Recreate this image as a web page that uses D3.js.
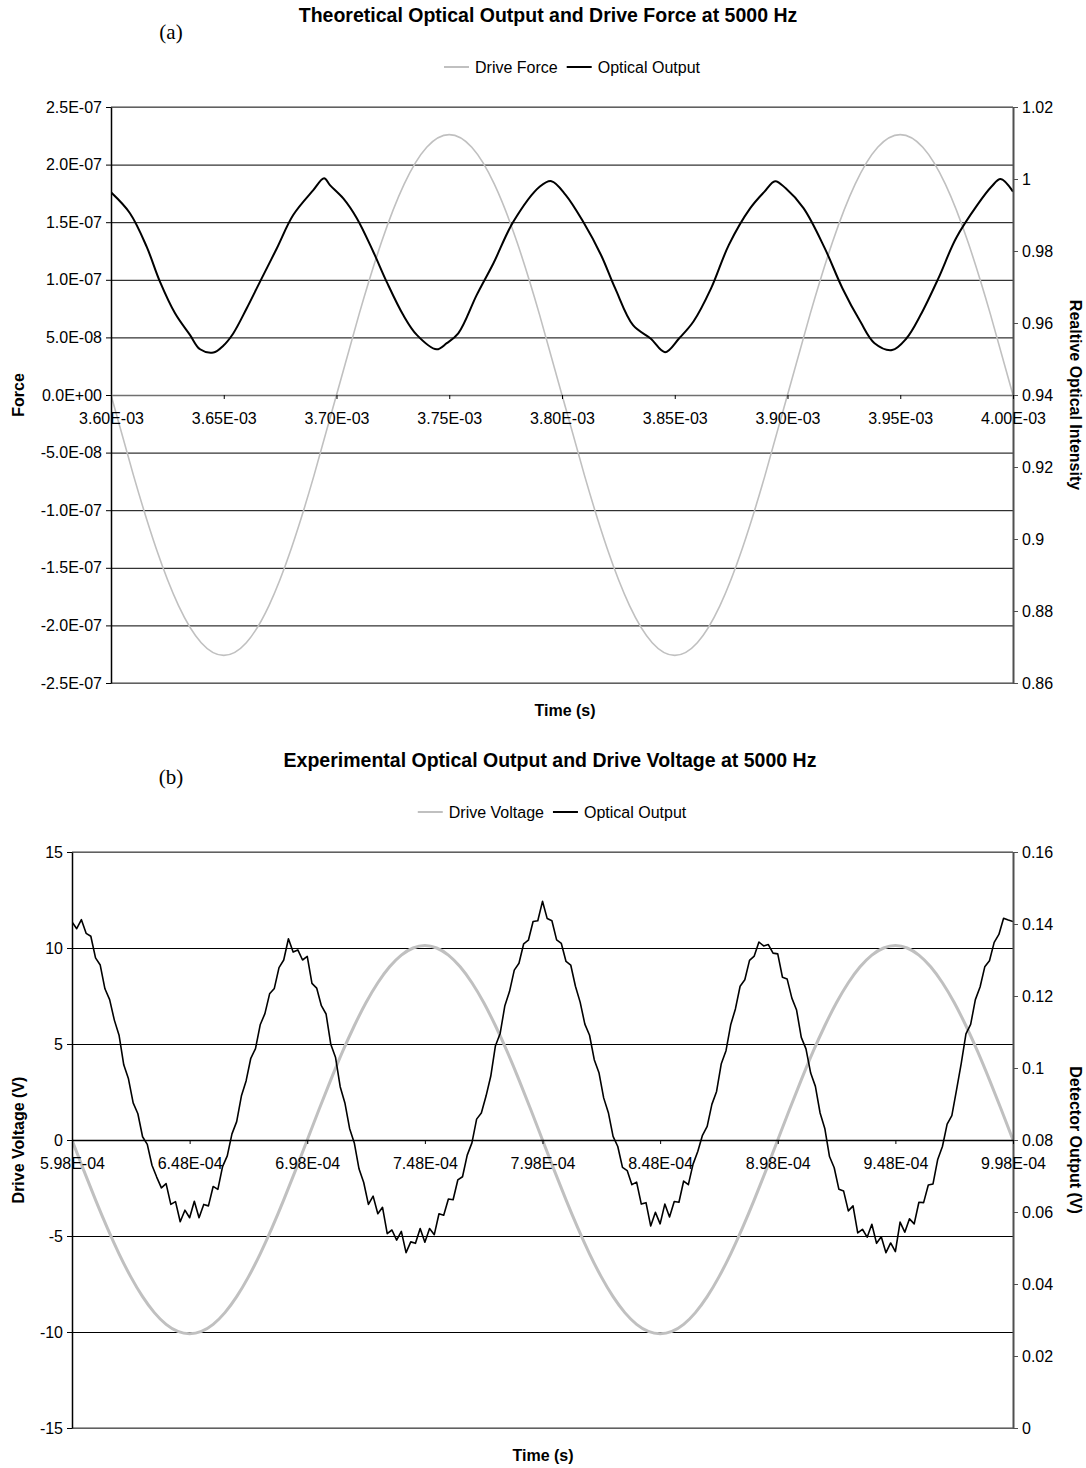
<!DOCTYPE html>
<html>
<head>
<meta charset="utf-8">
<script src="https://cdn.jsdelivr.net/npm/d3@7"></script>
<style>
  body { margin: 0; background: #fff; }
  text { font-family: "Liberation Sans", Arial, sans-serif; fill: #000; }
</style>
</head>
<body>
<svg id="fig" width="1086" height="1468"></svg>
<script>
// ---------- Panel (a): theoretical model ----------
const timeTicksA = [3.60e-3, 3.65e-3, 3.70e-3, 3.75e-3, 3.80e-3, 3.85e-3, 3.90e-3, 3.95e-3, 4.00e-3];
const forceTicks = [-2.5e-7, -2.0e-7, -1.5e-7, -1.0e-7, -5.0e-8, 0, 5.0e-8, 1.0e-7, 1.5e-7, 2.0e-7, 2.5e-7];
const intensityTicks = [0.86, 0.88, 0.90, 0.92, 0.94, 0.96, 0.98, 1.00, 1.02];

// drive force sampled every 10 microseconds from 3.60E-03 s
const forceTime = d3.range(41).map(i => 3.6e-3 + i * 1e-5);
const forceA = [
  0, -7.0e-8, -1.33e-7, -1.83e-7, -2.15e-7, -2.26e-7, -2.15e-7, -1.83e-7, -1.33e-7, -7.0e-8,
  0, 7.0e-8, 1.33e-7, 1.83e-7, 2.15e-7, 2.26e-7, 2.15e-7, 1.83e-7, 1.33e-7, 7.0e-8,
  0, -7.0e-8, -1.33e-7, -1.83e-7, -2.15e-7, -2.26e-7, -2.15e-7, -1.83e-7, -1.33e-7, -7.0e-8,
  0, 7.0e-8, 1.33e-7, 1.83e-7, 2.15e-7, 2.26e-7, 2.15e-7, 1.83e-7, 1.33e-7, 7.0e-8,
  0
];

// relative optical intensity from the model
const opticalTimeA = [
  3.6000e-3, 3.6084e-3, 3.6158e-3, 3.6217e-3, 3.6284e-3, 3.6350e-3, 3.6395e-3, 3.6454e-3, 3.6498e-3, 3.6542e-3,
  3.6602e-3, 3.6661e-3, 3.6735e-3, 3.6808e-3, 3.6897e-3, 3.6945e-3, 3.6971e-3, 3.7030e-3, 3.7090e-3, 3.7163e-3,
  3.7222e-3, 3.7296e-3, 3.7356e-3, 3.7444e-3, 3.7489e-3, 3.7540e-3, 3.7622e-3, 3.7696e-3, 3.7784e-3, 3.7902e-3,
  3.7953e-3, 3.8016e-3, 3.8094e-3, 3.8173e-3, 3.8236e-3, 3.8315e-3, 3.8393e-3, 3.8457e-3, 3.8519e-3, 3.8583e-3,
  3.8661e-3, 3.8740e-3, 3.8835e-3, 3.8898e-3, 3.8945e-3, 3.8992e-3, 3.9071e-3, 3.9165e-3, 3.9244e-3, 3.9323e-3,
  3.9386e-3, 3.9464e-3, 3.9527e-3, 3.9590e-3, 3.9669e-3, 3.9748e-3, 3.9842e-3, 3.9905e-3, 3.9945e-3, 4.0000e-3
];
const opticalA = [
  0.9963, 0.9905, 0.9812, 0.9715, 0.9627, 0.9567, 0.9527, 0.9518, 0.9537, 0.9571,
  0.9641, 0.9715, 0.9807, 0.9900, 0.9969, 1.0002, 0.9983, 0.9946, 0.9891, 0.9798,
  0.9715, 0.9622, 0.9567, 0.9527, 0.9544, 0.9571, 0.9678, 0.9766, 0.9881, 0.9979,
  0.9994, 0.9956, 0.9881, 0.9789, 0.9696, 0.9594, 0.9557, 0.9519, 0.9557, 0.9604,
  0.9696, 0.9817, 0.9919, 0.9965, 0.9994, 0.9974, 0.9919, 0.9808, 0.9696, 0.9604,
  0.9544, 0.9525, 0.9557, 0.9622, 0.9724, 0.9836, 0.9928, 0.9979, 1.0000, 0.9965
];

// ---------- Panel (b): measurement ----------
const timeTicksB = [5.98e-4, 6.48e-4, 6.98e-4, 7.48e-4, 7.98e-4, 8.48e-4, 8.98e-4, 9.48e-4, 9.98e-4];
const voltTicks = [-15, -10, -5, 0, 5, 10, 15];
const detectorTicks = [0, 0.02, 0.04, 0.06, 0.08, 0.10, 0.12, 0.14, 0.16];

// drive voltage recorded every 5 microseconds from 5.98E-04 s
const voltTime = d3.range(81).map(i => 5.98e-4 + i * 5e-6);
const voltB = [
  0.00, -1.58, -3.12, -4.58, -5.93, -7.13, -8.16, -8.99, -9.60, -9.97,
  -10.09, -9.97, -9.60, -8.99, -8.16, -7.13, -5.93, -4.58, -3.12, -1.58,
  0.00, 1.59, 3.13, 4.60, 5.95, 7.16, 8.19, 9.02, 9.63, 10.00,
  10.13, 10.00, 9.63, 9.02, 8.19, 7.16, 5.95, 4.60, 3.13, 1.59,
  0.00, -1.58, -3.12, -4.58, -5.93, -7.13, -8.16, -8.99, -9.60, -9.97,
  -10.09, -9.97, -9.60, -8.99, -8.16, -7.13, -5.93, -4.58, -3.12, -1.58,
  0.00, 1.59, 3.13, 4.60, 5.95, 7.16, 8.19, 9.02, 9.63, 10.00,
  10.13, 10.00, 9.63, 9.02, 8.19, 7.16, 5.95, 4.60, 3.13, 1.59,
  0.00
];

// detector output recorded every 2 microseconds from 5.98E-04 s
const detTime = d3.range(201).map(i => 5.98e-4 + i * 2e-6);
const detectorB = [
  0.1406, 0.1387, 0.1412, 0.1374, 0.1366, 0.1306, 0.1286, 0.1220, 0.1190, 0.1133,
  0.1091, 0.1009, 0.0970, 0.0903, 0.0873, 0.0809, 0.0788, 0.0730, 0.0697, 0.0667,
  0.0679, 0.0621, 0.0629, 0.0573, 0.0605, 0.0584, 0.0630, 0.0584, 0.0621, 0.0617,
  0.0671, 0.0663, 0.0726, 0.0756, 0.0817, 0.0851, 0.0922, 0.0964, 0.1027, 0.1054,
  0.1120, 0.1151, 0.1206, 0.1221, 0.1279, 0.1300, 0.1359, 0.1322, 0.1328, 0.1300,
  0.1310, 0.1235, 0.1222, 0.1173, 0.1150, 0.1066, 0.1030, 0.0948, 0.0903, 0.0832,
  0.0792, 0.0720, 0.0682, 0.0621, 0.0644, 0.0595, 0.0613, 0.0540, 0.0550, 0.0522,
  0.0546, 0.0487, 0.0517, 0.0513, 0.0554, 0.0516, 0.0554, 0.0537, 0.0595, 0.0591,
  0.0636, 0.0634, 0.0689, 0.0698, 0.0758, 0.0792, 0.0858, 0.0875, 0.0922, 0.0977,
  0.1062, 0.1096, 0.1173, 0.1213, 0.1272, 0.1291, 0.1345, 0.1355, 0.1407, 0.1409,
  0.1463, 0.1415, 0.1409, 0.1356, 0.1346, 0.1296, 0.1286, 0.1227, 0.1183, 0.1122,
  0.1091, 0.1023, 0.0987, 0.0917, 0.0876, 0.0810, 0.0782, 0.0724, 0.0715, 0.0676,
  0.0683, 0.0622, 0.0626, 0.0561, 0.0599, 0.0567, 0.0622, 0.0586, 0.0629, 0.0627,
  0.0686, 0.0676, 0.0733, 0.0768, 0.0813, 0.0838, 0.0899, 0.0935, 0.1012, 0.1048,
  0.1120, 0.1164, 0.1227, 0.1245, 0.1299, 0.1311, 0.1350, 0.1339, 0.1343, 0.1319,
  0.1317, 0.1252, 0.1247, 0.1194, 0.1161, 0.1085, 0.1053, 0.0986, 0.0949, 0.0875,
  0.0832, 0.0754, 0.0723, 0.0663, 0.0658, 0.0603, 0.0617, 0.0542, 0.0552, 0.0530,
  0.0566, 0.0513, 0.0531, 0.0487, 0.0514, 0.0490, 0.0572, 0.0544, 0.0581, 0.0567,
  0.0627, 0.0626, 0.0675, 0.0678, 0.0746, 0.0782, 0.0844, 0.0868, 0.0939, 0.1013,
  0.1095, 0.1121, 0.1190, 0.1225, 0.1281, 0.1298, 0.1349, 0.1371, 0.1416, 0.1411,
  0.1407
];

// ---------- helpers ----------
function sci(v, digits) {
  if (Math.abs(v) < 1e-20) v = 0;
  const [m, e] = v.toExponential(digits).split('e');
  const sign = e[0] === '-' ? '-' : '+';
  return m + 'E' + sign + e.replace(/[+-]/, '').padStart(2, '0');
}
const plain = d3.format('~g');

const svg = d3.select('#fig');
const GREY = '#c0c0c0';
const FS = 16;

function drawPanel(o) {
  const g = svg.append('g');
  const x = d3.scaleLinear().domain(o.xDomain).range([o.left, o.right]);
  const yL = d3.scaleLinear().domain(o.yLDomain).range([o.bottom, o.top]);
  const yR = d3.scaleLinear().domain(o.yRDomain).range([o.bottom, o.top]);
  const w = o.right - o.left;

  // horizontal gridlines at the left-axis ticks
  g.append('g')
    .attr('transform', `translate(${o.left},0)`)
    .call(d3.axisLeft(yL).tickValues(o.yLTicks).tickSize(-w).tickFormat(''))
    .call(a => a.select('.domain').remove())
    .call(a => a.selectAll('line').attr('stroke', '#000').attr('stroke-width', 1));

  // plot-area frame (top and bottom)
  g.append('line').attr('x1', o.left).attr('x2', o.right).attr('y1', o.top).attr('y2', o.top)
    .attr('stroke', '#808080').attr('stroke-width', 1.5);
  g.append('line').attr('x1', o.left).attr('x2', o.right).attr('y1', o.bottom).attr('y2', o.bottom)
    .attr('stroke', '#808080').attr('stroke-width', 1.5);

  // series
  const clipId = 'clip-' + o.id;
  svg.append('defs').append('clipPath').attr('id', clipId)
    .append('rect').attr('x', o.left).attr('y', o.top - 2).attr('width', w).attr('height', o.bottom - o.top + 4);
  const series = g.append('g').attr('clip-path', `url(#${clipId})`);
  o.series.forEach(s => {
    const sc = s.axis === 'left' ? yL : yR;
    const line = d3.line().x(d => x(d[0])).y(d => sc(d[1])).curve(s.curve);
    series.append('path')
      .datum(d3.zip(s.t, s.v))
      .attr('d', line)
      .attr('fill', 'none')
      .attr('stroke', s.color)
      .attr('stroke-width', s.width)
      .attr('stroke-linejoin', 'round');
  });

  // left axis
  g.append('g')
    .attr('transform', `translate(${o.left},0)`)
    .call(d3.axisLeft(yL).tickValues(o.yLTicks).tickFormat(o.yLFormat).tickSizeInner(5).tickSizeOuter(0).tickPadding(4))
    .call(a => a.select('.domain').attr('stroke', '#000').attr('stroke-width', 1.5))
    .call(a => a.selectAll('.tick line').attr('stroke', '#000'))
    .call(a => a.selectAll('text').attr('font-size', FS).attr('font-family', '"Liberation Sans", Arial, sans-serif'));

  // right axis
  g.append('g')
    .attr('transform', `translate(${o.right},0)`)
    .call(d3.axisRight(yR).tickValues(o.yRTicks).tickFormat(plain).tickSizeInner(5).tickSizeOuter(0).tickPadding(4))
    .call(a => a.select('.domain').attr('stroke', '#505050').attr('stroke-width', 2))
    .call(a => a.selectAll('.tick line').attr('stroke', '#505050'))
    .call(a => a.selectAll('text').attr('font-size', FS).attr('font-family', '"Liberation Sans", Arial, sans-serif'));

  // time axis drawn on the zero line
  g.append('g')
    .attr('transform', `translate(0,${yL(0)})`)
    .call(d3.axisBottom(x).tickValues(o.xTicks).tickFormat(d => sci(d, 2)).tickSizeInner(4).tickSizeOuter(0).tickPadding(14))
    .call(a => a.select('.domain').attr('stroke', o.zeroColor).attr('stroke-width', 1.5))
    .call(a => a.selectAll('.tick line').attr('stroke', '#000'))
    .call(a => a.selectAll('text').attr('font-size', FS).attr('font-family', '"Liberation Sans", Arial, sans-serif'));

  // chart title and panel letter
  g.append('text').attr('x', o.titleX).attr('y', o.titleY).attr('text-anchor', 'middle')
    .attr('font-size', 19.5).attr('font-weight', 'bold').text(o.title);
  g.append('text').attr('x', o.letterX).attr('y', o.letterY).attr('text-anchor', 'middle')
    .attr('font-size', 21).style('font-family', '"Liberation Serif", "Times New Roman", serif').text(o.letter);

  // legend
  const lg = g.append('g');
  let cx = 0;
  o.legend.forEach(item => {
    lg.append('line').attr('x1', cx).attr('x2', cx + 25).attr('y1', 0).attr('y2', 0)
      .attr('stroke', item.color).attr('stroke-width', item.width);
    const t = lg.append('text').attr('x', cx + 31).attr('y', 0).attr('dy', '0.35em')
      .attr('font-size', FS).text(item.label);
    cx += 31 + t.node().getComputedTextLength() + 9;
  });
  const lw = cx - 9;
  lg.attr('transform', `translate(${o.legendX - lw / 2},${o.legendY})`);

  // axis titles
  const cy = (o.top + o.bottom) / 2;
  g.append('text').attr('transform', `translate(18,${cy}) rotate(-90)`)
    .attr('text-anchor', 'middle').attr('dy', '0.35em').attr('font-size', FS).attr('font-weight', 'bold')
    .text(o.yLLabel);
  g.append('text').attr('transform', `translate(1076,${cy}) rotate(90)`)
    .attr('text-anchor', 'middle').attr('dy', '0.35em').attr('font-size', FS).attr('font-weight', 'bold')
    .text(o.yRLabel);
  g.append('text').attr('x', o.xLabelX).attr('y', o.bottom + 27).attr('dy', '0.35em')
    .attr('text-anchor', 'middle').attr('font-size', FS).attr('font-weight', 'bold')
    .text('Time (s)');
}

drawPanel({
  id: 'a', left: 111, right: 1013, top: 107, bottom: 683,
  xDomain: [3.6e-3, 4.0e-3], yLDomain: [-2.5e-7, 2.5e-7], yRDomain: [0.86, 1.02],
  xTicks: timeTicksA, yLTicks: forceTicks, yRTicks: intensityTicks,
  yLFormat: d => sci(d, 1), zeroColor: '#707070',
  series: [
    { t: forceTime, v: forceA, axis: 'left', color: GREY, width: 1.6, curve: d3.curveNatural },
    { t: opticalTimeA, v: opticalA, axis: 'right', color: '#000', width: 2, curve: d3.curveCatmullRom }
  ],
  title: 'Theoretical Optical Output and Drive Force at 5000 Hz', titleX: 548, titleY: 22,
  letter: '(a)', letterX: 171, letterY: 39,
  legend: [{ label: 'Drive Force', color: GREY, width: 2 }, { label: 'Optical Output', color: '#000', width: 2 }],
  legendX: 572, legendY: 67,
  yLLabel: 'Force', yRLabel: 'Realtive Optical Intensity', xLabelX: 565
});

drawPanel({
  id: 'b', left: 72, right: 1013, top: 852, bottom: 1428,
  xDomain: [5.98e-4, 9.98e-4], yLDomain: [-15, 15], yRDomain: [0, 0.16],
  xTicks: timeTicksB, yLTicks: voltTicks, yRTicks: detectorTicks,
  yLFormat: d => String(d), zeroColor: '#000',
  series: [
    { t: voltTime, v: voltB, axis: 'left', color: GREY, width: 3, curve: d3.curveNatural },
    { t: detTime, v: detectorB, axis: 'right', color: '#000', width: 1.6, curve: d3.curveLinear }
  ],
  title: 'Experimental Optical Output and Drive Voltage at 5000 Hz', titleX: 550, titleY: 767,
  letter: '(b)', letterX: 171, letterY: 784,
  legend: [{ label: 'Drive Voltage', color: GREY, width: 2 }, { label: 'Optical Output', color: '#000', width: 2 }],
  legendX: 552, legendY: 812,
  yLLabel: 'Drive Voltage (V)', yRLabel: 'Detector Output (V)', xLabelX: 543
});
</script>
</body>
</html>
